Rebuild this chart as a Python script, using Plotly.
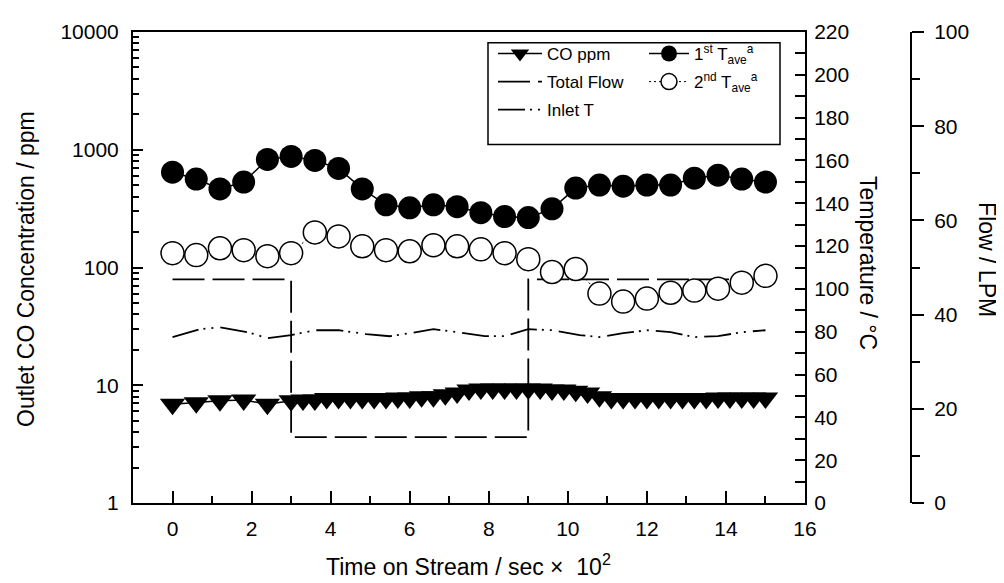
import plotly.graph_objects as go

# ---------------- data ----------------
co_time = [0, 0.6, 1.2, 1.8, 2.4, 3.0,
           3.3, 3.6, 3.9, 4.2, 4.5, 4.8, 5.1, 5.4, 5.7, 6.0,
           6.3, 6.6, 6.9, 7.2, 7.5, 7.8, 8.1, 8.4, 8.7, 9.0,
           9.3, 9.6, 9.9, 10.2, 10.5, 10.8, 11.1, 11.4, 11.7, 12.0,
           12.3, 12.6, 12.9, 13.2, 13.5, 13.8, 14.1, 14.4, 14.7, 15.0]
co_ppm = [6.9, 7.1, 7.4, 7.5, 6.9, 7.4,
          7.5, 7.5, 7.7, 7.7, 7.7, 7.7, 7.7, 7.7, 7.8, 7.8,
          8.0, 8.0, 8.3, 8.6, 9.1, 9.3, 9.3, 9.3, 9.3, 9.3,
          9.3, 9.1, 9.1, 8.9, 8.6, 8.0, 7.7, 7.7, 7.7, 7.7,
          7.7, 7.7, 7.7, 7.7, 7.7, 7.8, 7.8, 7.8, 7.8, 7.8]

flow_time = [0, 3, 3, 9, 9, 15]
total_flow = [47.5, 47.5, 14, 14, 47.5, 47.5]

inlet_time = [0, 0.7, 1.2, 1.9, 2.4, 3.0, 3.6, 4.2, 4.9, 5.5, 6.0, 6.6, 7.2,
              7.9, 8.4, 9.0, 9.6, 10.3, 10.8, 11.4, 12.0, 12.6, 13.2, 13.8, 14.4, 15.0]
inlet_t = [77.5, 81.2, 82.1, 79.8, 77.0, 78.4, 80.7, 80.7, 78.9, 77.9, 79.3, 81.2, 79.8,
           77.9, 77.9, 81.2, 80.7, 78.4, 77.5, 79.3, 80.7, 79.8, 77.5, 77.9, 79.8, 80.7]

tave_time = [0, 0.6, 1.2, 1.8, 2.4, 3.0, 3.6, 4.2, 4.8, 5.4, 6.0, 6.6, 7.2,
             7.8, 8.4, 9.0, 9.6, 10.2, 10.8, 11.4, 12.0, 12.6, 13.2, 13.8, 14.4, 15.0]
t_ave_1st = [154.5, 151.3, 146.7, 149.9, 160.5, 161.9, 160.0, 156.3, 146.7, 139.3, 137.9, 139.3, 138.4,
             135.6, 133.8, 133.3, 137.4, 147.1, 148.5, 148.0, 148.5, 148.5, 151.7, 153.1, 151.3, 149.9]
t_ave_2nd = [116.7, 115.8, 119.0, 118.1, 115.3, 116.7, 126.4, 124.5, 119.9, 118.1, 117.6, 120.4, 119.9,
             118.5, 116.7, 113.9, 107.9, 109.3, 97.8, 94.1, 95.5, 98.2, 99.2, 100.1, 102.9, 106.1]

x_ticks = [0, 2, 4, 6, 8, 10, 12, 14, 16]
log_ticks = [1, 10, 100, 1000, 10000]
log_tick_text = ["1", "10", "100", "1000", "10000"]

# ---------------- layout geometry (pixels) ----------------
W, H = 1004, 583
L, R, T, B = 125, 84, 18, 88
PW = W - L - R
PH = H - T - B
plot_right = 797
flow_axis_x = 903


def px(x):
    return (x - L) / PW


def py(y):
    return (H - B - y) / PH


FONT = "Liberation Sans, Arial, Helvetica, sans-serif"
BLACK = "black"
TICKSIZE = 21

fig = go.Figure()

fig.add_trace(go.Scatter(
    x=flow_time, y=total_flow, yaxis="y2", mode="lines", name="Total Flow",
    line=dict(color=BLACK, width=1.8, dash="32px,8px"),
    legend="legend", legendrank=2, legendgroup="g2"))

fig.add_trace(go.Scatter(
    x=co_time, y=co_ppm, yaxis="y", mode="lines+markers", name="CO ppm",
    line=dict(color=BLACK, width=1.5),
    marker=dict(symbol="triangle-down", size=22, color=BLACK, line=dict(width=0)),
    legend="legend", legendrank=1, legendgroup="g1"))

fig.add_trace(go.Scatter(
    x=inlet_time, y=inlet_t, yaxis="y3", mode="lines", name="Inlet T",
    line=dict(color=BLACK, width=1.8, dash="27px,5px,2px,6px,2px,7px"),
    legend="legend", legendrank=3, legendgroup="g3"))

fig.add_trace(go.Scatter(
    x=tave_time, y=t_ave_1st, yaxis="y3", mode="lines+markers",
    name="1<sup>st</sup> T<sub>ave</sub><sup>a</sup>",
    line=dict(color=BLACK, width=1.5),
    marker=dict(symbol="circle", size=23, color=BLACK, line=dict(width=0)),
    legend="legend2", legendrank=1, legendgroup="g4"))

fig.add_trace(go.Scatter(
    x=tave_time, y=t_ave_2nd, yaxis="y3", mode="lines+markers",
    name="2<sup>nd</sup> T<sub>ave</sub><sup>a</sup>",
    line=dict(color=BLACK, width=1, dash="2px,3px"),
    marker=dict(symbol="circle", size=23, color="white", line=dict(width=1.5, color=BLACK)),
    legend="legend2", legendrank=2, legendgroup="g5"))

minor_log = [m * 10 ** e for e in range(0, 4) for m in range(2, 10)]

fig.update_layout(
    width=W, height=H,
    margin=dict(l=L, r=R, t=T, b=B, pad=0),
    paper_bgcolor="white", plot_bgcolor="white",
    font=dict(family=FONT, size=TICKSIZE, color=BLACK),
    showlegend=True,
    xaxis=dict(
        domain=[0, px(plot_right)], range=[-1, 16],
        tickvals=x_ticks, ticks="inside", ticklen=12, tickwidth=2, tickcolor=BLACK,
        minor=dict(dtick=1, ticks="inside", ticklen=7, tickwidth=2, tickcolor=BLACK, showgrid=False),
        showline=True, linewidth=2, linecolor=BLACK, mirror=True,
        showgrid=False, zeroline=False, tickfont=dict(size=TICKSIZE),
        ticklabelstandoff=6,
    ),
    yaxis=dict(
        type="log", range=[0, 4],
        tickvals=log_ticks, ticktext=log_tick_text,
        ticks="inside", ticklen=10, tickwidth=2, tickcolor=BLACK,
        minor=dict(tickvals=minor_log, ticks="inside", ticklen=6, tickwidth=1.5,
                   tickcolor=BLACK, showgrid=False),
        showline=True, linewidth=2, linecolor=BLACK,
        showgrid=False, zeroline=False, tickfont=dict(size=TICKSIZE),
        ticklabelstandoff=8,
    ),
    yaxis2=dict(
        overlaying="y", side="right", anchor="free", position=px(flow_axis_x),
        range=[0, 100], dtick=20, ticks="outside", ticklen=12, tickwidth=2, tickcolor=BLACK,
        minor=dict(dtick=10, ticks="outside", ticklen=8, tickwidth=2, tickcolor=BLACK, showgrid=False),
        showline=True, linewidth=2, linecolor=BLACK,
        showgrid=False, zeroline=False, tickfont=dict(size=TICKSIZE),
        ticklabelstandoff=6,
    ),
    yaxis3=dict(
        overlaying="y", side="right", anchor="x",
        range=[0, 220], dtick=20, ticks="inside", ticklen=10, tickwidth=2, tickcolor=BLACK,
        minor=dict(dtick=10, ticks="inside", ticklen=10, tickwidth=2, tickcolor=BLACK, showgrid=False),
        showline=True, linewidth=2, linecolor=BLACK,
        showgrid=False, zeroline=False, tickfont=dict(size=TICKSIZE),
        ticklabelstandoff=3,
    ),
    legend=dict(
        x=px(485), y=py(22), xanchor="left", yanchor="top",
        bgcolor="rgba(0,0,0,0)", borderwidth=0,
        font=dict(size=17), itemwidth=44, tracegroupgap=3,
        traceorder="grouped",
    ),
    legend2=dict(
        x=px(636), y=py(22), xanchor="left", yanchor="top",
        bgcolor="rgba(0,0,0,0)", borderwidth=0,
        font=dict(size=17), itemwidth=40, tracegroupgap=3,
        traceorder="grouped",
    ),
    shapes=[dict(type="rect", xref="paper", yref="paper",
                 x0=px(480), x1=px(772), y0=py(132), y1=py(29),
                 line=dict(color=BLACK, width=1.5), fillcolor="rgba(0,0,0,0)", layer="above")],
    annotations=[
        dict(text="Outlet CO Concentration / ppm", xref="paper", yref="paper",
             x=px(18), y=py(258), textangle=-90, showarrow=False,
             font=dict(size=23), xanchor="center", yanchor="middle"),
        dict(text="Temperature / \u00b0C", xref="paper", yref="paper",
             x=px(860), y=py(252), textangle=90, showarrow=False,
             font=dict(size=23), xanchor="center", yanchor="middle"),
        dict(text="Flow / LPM", xref="paper", yref="paper",
             x=px(979), y=py(248), textangle=90, showarrow=False,
             font=dict(size=23), xanchor="center", yanchor="middle"),
        dict(text="Time on Stream / sec \u00d7  10<sup>2</sup>", xref="paper", yref="paper",
             x=px(460), y=py(558), showarrow=False,
             font=dict(size=23), xanchor="center", yanchor="middle"),
    ],
)

fig.write_html("out.html")
